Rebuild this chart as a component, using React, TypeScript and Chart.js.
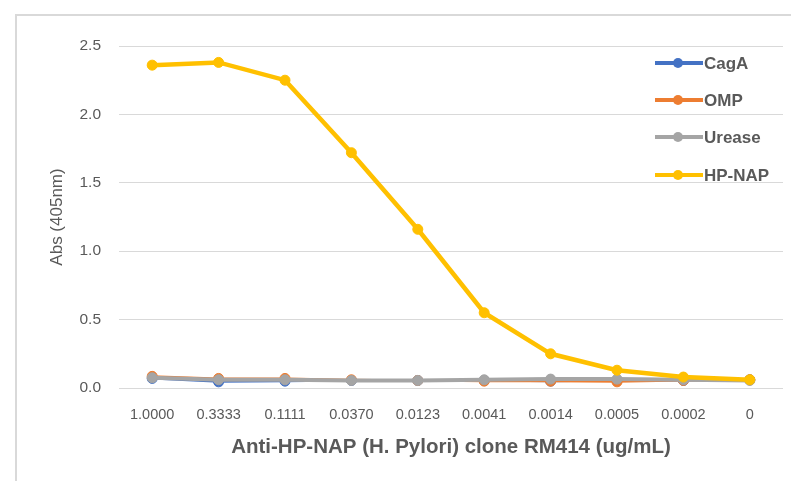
import React, { useEffect, useRef } from "react";
import { Chart, registerables } from "chart.js";

Chart.register(...registerables);

const categories = ["1.0000", "0.3333", "0.1111", "0.0370", "0.0123", "0.0041", "0.0014", "0.0005", "0.0002", "0"];
const cagA = [0.07, 0.045, 0.05, 0.055, 0.055, 0.055, 0.05, 0.055, 0.055, 0.06];
const omp = [0.085, 0.07, 0.07, 0.06, 0.055, 0.05, 0.05, 0.045, 0.055, 0.06];
const urease = [0.075, 0.06, 0.06, 0.055, 0.055, 0.06, 0.065, 0.065, 0.06, 0.055];
const hpNap = [2.36, 2.38, 2.25, 1.72, 1.16, 0.55, 0.25, 0.13, 0.08, 0.06];
const seriesNames = ["CagA", "OMP", "Urease", "HP-NAP"];
const seriesColors = ["#4472C4", "#ED7D31", "#A5A5A5", "#FFC000"];

const FONT = '"Liberation Sans", Arial, sans-serif';
const TEXT = "#595959";

const framePlugin = {
  id: "frame",
  beforeDraw(chart: any) {
    const { ctx, width, height } = chart;
    ctx.save();
    ctx.fillStyle = "#ffffff";
    ctx.fillRect(0, 0, width, height);
    ctx.strokeStyle = "#d9d9d9";
    ctx.lineWidth = 2;
    ctx.beginPath();
    ctx.moveTo(16, height);
    ctx.lineTo(16, 15);
    ctx.lineTo(width, 15);
    ctx.stroke();
    ctx.restore();
  },
};

const legendPlugin = {
  id: "customLegend",
  afterDraw(chart: any) {
    const { ctx } = chart;
    ctx.save();
    const ys = [63, 100, 137, 175];
    chart.data.datasets.forEach((ds: any, i: number) => {
      const y = ys[i];
      ctx.strokeStyle = ds.borderColor;
      ctx.lineWidth = 4;
      ctx.beginPath();
      ctx.moveTo(655, y);
      ctx.lineTo(703, y);
      ctx.stroke();
      ctx.fillStyle = ds.borderColor;
      ctx.beginPath();
      ctx.arc(678, y, 5, 0, Math.PI * 2);
      ctx.fill();
      ctx.fillStyle = TEXT;
      ctx.font = `bold 17px ${FONT}`;
      ctx.textBaseline = "middle";
      ctx.textAlign = "left";
      ctx.fillText(ds.label, 704, y + 1);
    });
    ctx.restore();
  },
};

export default function App() {
  const ref = useRef<HTMLCanvasElement>(null);
  useEffect(() => {
    document.body.style.margin = "0";
    const values = [cagA, omp, urease, hpNap];
    const orders = [3, 2, 1, 0];
    const chart = new Chart(ref.current!, {
      type: "line",
      data: {
        labels: categories,
        datasets: values.map((v, i) => ({
          label: seriesNames[i],
          data: v,
          borderColor: seriesColors[i],
          backgroundColor: seriesColors[i],
          pointBackgroundColor: seriesColors[i],
          pointBorderColor: seriesColors[i],
          borderWidth: i === 3 ? 4.5 : i === 2 ? 4 : 2,
          pointRadius: 5,
          pointBorderWidth: 1,
          tension: 0,
          order: orders[i],
        })),
      },
      options: {
        animation: false,
        responsive: false,
        layout: { padding: { top: 46, right: 8, left: 0, bottom: 0 } },
        plugins: {
          legend: { display: false },
          tooltip: { enabled: false },
        },
        scales: {
          x: {
            type: "category",
            offset: true,
            grid: { display: false, drawTicks: false },
            border: { display: false },
            ticks: { color: TEXT, font: { family: FONT, size: 14.5 }, padding: 18, maxRotation: 0, autoSkip: false },
            title: {
              display: true,
              text: "Anti-HP-NAP (H. Pylori) clone RM414 (ug/mL)",
              color: TEXT,
              font: { family: FONT, size: 20.5, weight: "bold" },
              padding: { top: 0, bottom: 21 },
            },
            afterFit(scale: any) {
              scale.height = 93;
            },
          },
          y: {
            min: 0,
            max: 2.5,
            ticks: {
              stepSize: 0.5,
              color: TEXT,
              font: { family: FONT, size: 15.5 },
              padding: 18,
              callback: (v: any) => Number(v).toFixed(1),
            },
            grid: { color: "#d9d9d9", lineWidth: 1, drawTicks: false },
            border: { display: false },
            title: {
              display: true,
              text: "Abs (405nm)",
              color: TEXT,
              font: { family: FONT, size: 17 },
              padding: { top: 47, bottom: 0 },
            },
            afterFit(scale: any) {
              scale.width = 119;
            },
          },
        },
      },
      plugins: [framePlugin, legendPlugin],
    });
    return () => chart.destroy();
  }, []);
  return <canvas ref={ref} width={791} height={481} style={{ display: "block" }} />;
}
